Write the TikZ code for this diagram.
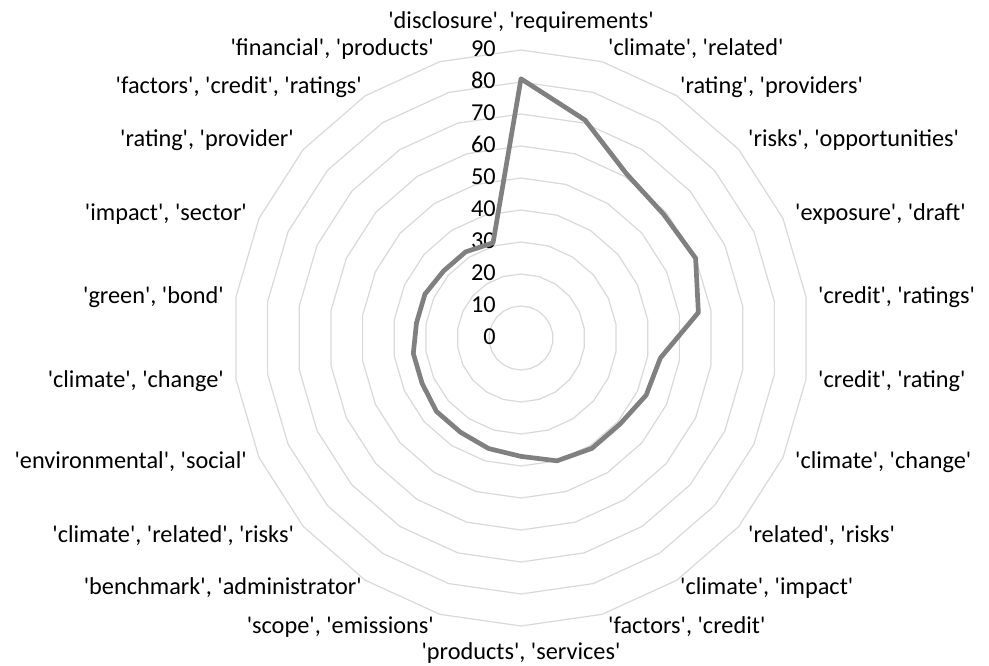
\documentclass[tikz,border=0pt]{standalone}
\usepackage{fontspec}
\setmainfont{Carlito}[Ligatures=TeXOff]
\begin{document}
\begin{tikzpicture}[x=1pt,y=1pt,
  gridline/.style={draw=black!15, line width=1.2pt, line join=round},
  series/.style={draw=black!50, line width=4.7pt, line join=round},
  ticklabel/.style={anchor=east, inner sep=0pt, text height=0.63em, text depth=0pt, font=\fontsize{24.3}{29}\selectfont},
  catlabel/.style={inner sep=0pt, text height=0.64em, text depth=0pt, font=\fontsize{24.3}{29}\selectfont}]
\useasboundingbox (-521,-327) rectangle (468,338);
\fill[white] (-521,-327) rectangle (468,338);

% concentric 22-sided gridlines, 10 units = 32pt
\foreach \r in {1,...,9}{
  \draw[gridline] (90:{\r*32}) \foreach \k in {1,...,21}{ -- ({90-\k*360/22}:{\r*32}) } -- cycle;
}

% axis values
\foreach \t in {0,...,9}{
  \pgfmathtruncatemacro\val{10*\t}
  \node[ticklabel] (tick\t) at (-25,{32*\t-3.5}) {\val};
}

% data series
\foreach \v [count=\k from 0] in {81,71,61,59,60,56,44,43,41,41,40,37,36,35,35,34,34,33,33,32,32,31}{
  \coordinate (d\k) at ({90-\k*360/22}:{\v*3.2});
}
\draw[series] (d0) \foreach \k in {1,...,21}{ -- (d\k) } -- cycle;

% category labels
\node[catlabel, anchor=center] (c0) at (0,313) {'disclosure', 'requirements'};
\node[catlabel, anchor=west] (c1) at (87,286) {'climate', 'related'};
\node[catlabel, anchor=west] (c2) at (159,248) {'rating', 'providers'};
\node[catlabel, anchor=west] (c3) at (227,195) {'risks', 'opportunities'};
\node[catlabel, anchor=west] (c4) at (274,121) {'exposure', 'draft'};
\node[catlabel, anchor=west] (c5) at (297,38) {'credit', 'ratings'};
\node[catlabel, anchor=west] (c6) at (297,-46) {'credit', 'rating'};
\node[catlabel, anchor=west] (c7) at (274,-127) {'climate', 'change'};
\node[catlabel, anchor=west] (c8) at (227,-201) {'related', 'risks'};
\node[catlabel, anchor=west] (c9) at (159,-253) {'climate', 'impact'};
\node[catlabel, anchor=west] (c10) at (87,-292) {'factors', 'credit'};
\node[catlabel, anchor=center] (c11) at (0,-318) {'products', 'services'};
\node[catlabel, anchor=east] (c12) at (-87,-292) {'scope', 'emissions'};
\node[catlabel, anchor=east] (c13) at (-159,-253) {'benchmark', 'administrator'};
\node[catlabel, anchor=east] (c14) at (-227,-201) {'climate', 'related', 'risks'};
\node[catlabel, anchor=east] (c15) at (-274,-127) {'environmental', 'social'};
\node[catlabel, anchor=east] (c16) at (-297,-46) {'climate', 'change'};
\node[catlabel, anchor=east] (c17) at (-297,38) {'green', 'bond'};
\node[catlabel, anchor=east] (c18) at (-274,121) {'impact', 'sector'};
\node[catlabel, anchor=east] (c19) at (-227,195) {'rating', 'provider'};
\node[catlabel, anchor=east] (c20) at (-159,248) {'factors', 'credit', 'ratings'};
\node[catlabel, anchor=east] (c21) at (-87,286) {'financial', 'products'};
\end{tikzpicture}
\end{document}
